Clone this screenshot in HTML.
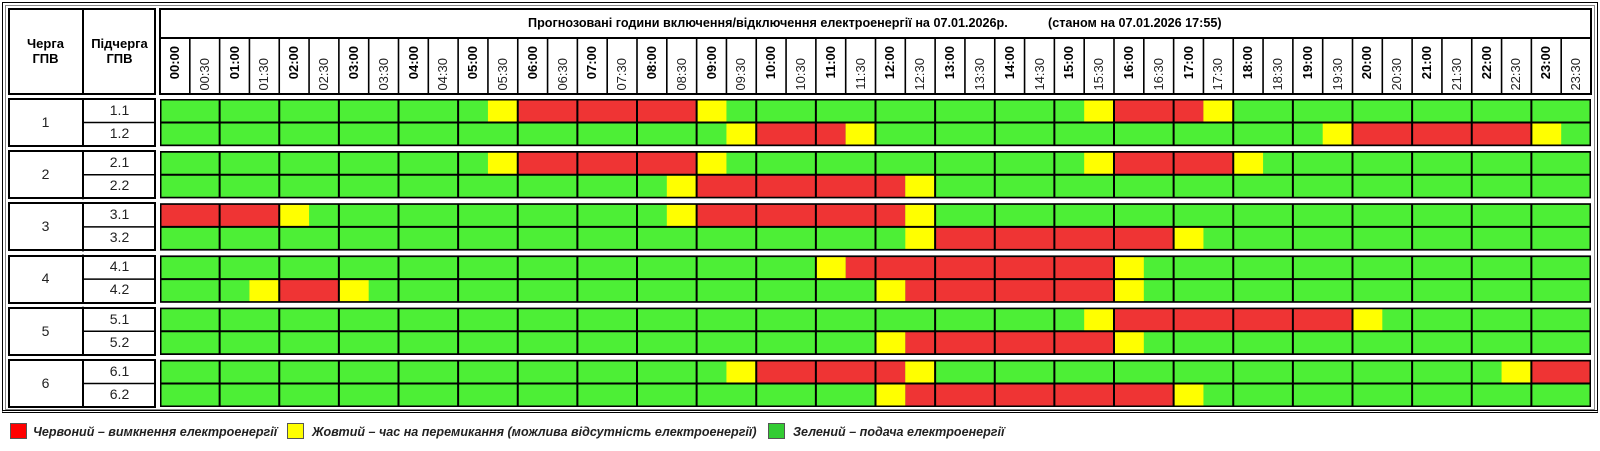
<!DOCTYPE html>
<html><head><meta charset="utf-8">
<style>
*{margin:0;padding:0;box-sizing:border-box}
body{width:1600px;height:451px;background:#fff;position:relative;overflow:hidden;font-family:"Liberation Sans",sans-serif;color:#000}
.a{position:absolute}
.box{position:absolute;border:2px solid #000}
.c{position:absolute;text-align:center;font-size:14px;color:#222}
.t{position:absolute;width:56px;height:29.8px;transform-origin:0 0;transform:rotate(-90deg);font-size:13px;line-height:29.8px;text-align:center;top:94px}
.t.b{font-weight:bold;text-align:right;padding-right:8px}
.t.n{text-align:right;padding-right:20px;color:#222}
.lg{position:absolute;top:423px;width:17px;height:16px;border:1px solid #555}
.lt{position:absolute;top:424px;font-size:13px;font-weight:bold;font-style:italic;color:#222;line-height:16px;white-space:nowrap;transform-origin:0 0;transform:scaleX(0.965)}
</style></head><body>
<div class="a" style="left:2px;top:2px;width:1596px;height:411px;border:1px solid #000;border-bottom:3px double #000"></div>
<div class="a" style="left:5px;top:5px;width:1590px;height:405px;border:1px solid #888"></div>

<div class="box" style="left:8px;top:8px;width:148px;height:87px"></div>
<div class="a" style="left:82px;top:8px;width:2px;height:87px;background:#000"></div>
<div class="c" style="left:8px;top:36px;width:75px;font-weight:bold;font-size:13px;line-height:15px;color:#000">Черга<br>ГПВ</div>
<div class="c" style="left:83px;top:36px;width:73px;font-weight:bold;font-size:13px;line-height:15px;color:#000">Підчерга<br>ГПВ</div>

<div class="box" style="left:159px;top:8px;width:1433px;height:87px"></div>
<div class="a" style="left:159px;top:37px;width:1433px;height:2px;background:#000"></div>
<div class="a" style="left:528px;top:15px;font-size:13px;font-weight:bold;white-space:nowrap;transform:scaleX(0.97);transform-origin:0 0">Прогнозовані години включення/відключення електроенергії на 07.01.2026р.</div>
<div class="a" style="left:1048px;top:15px;font-size:13px;font-weight:bold;white-space:nowrap;transform:scaleX(0.97);transform-origin:0 0">(станом на 07.01.2026 17:55)</div>
<svg class="a" style="left:160px;top:38px" width="1431" height="56" viewBox="0 0 48 56" preserveAspectRatio="none">
<g stroke="#000" stroke-width="1.6">
<path vector-effect="non-scaling-stroke" d="M1 0V56M2 0V56M3 0V56M4 0V56M5 0V56M6 0V56M7 0V56M8 0V56M9 0V56M10 0V56M11 0V56M12 0V56M13 0V56M14 0V56M15 0V56M16 0V56M17 0V56M18 0V56M19 0V56M20 0V56M21 0V56M22 0V56M23 0V56M24 0V56M25 0V56M26 0V56M27 0V56M28 0V56M29 0V56M30 0V56M31 0V56M32 0V56M33 0V56M34 0V56M35 0V56M36 0V56M37 0V56M38 0V56M39 0V56M40 0V56M41 0V56M42 0V56M43 0V56M44 0V56M45 0V56M46 0V56M47 0V56"/>
</g></svg>
<div class="t b" style="left:160.0px">00:00</div><div class="t n" style="left:189.8px">00:30</div>
<div class="t b" style="left:219.6px">01:00</div><div class="t n" style="left:249.4px">01:30</div>
<div class="t b" style="left:279.2px">02:00</div><div class="t n" style="left:309.1px">02:30</div>
<div class="t b" style="left:338.9px">03:00</div><div class="t n" style="left:368.7px">03:30</div>
<div class="t b" style="left:398.5px">04:00</div><div class="t n" style="left:428.3px">04:30</div>
<div class="t b" style="left:458.1px">05:00</div><div class="t n" style="left:487.9px">05:30</div>
<div class="t b" style="left:517.7px">06:00</div><div class="t n" style="left:547.5px">06:30</div>
<div class="t b" style="left:577.3px">07:00</div><div class="t n" style="left:607.1px">07:30</div>
<div class="t b" style="left:637.0px">08:00</div><div class="t n" style="left:666.8px">08:30</div>
<div class="t b" style="left:696.6px">09:00</div><div class="t n" style="left:726.4px">09:30</div>
<div class="t b" style="left:756.2px">10:00</div><div class="t n" style="left:786.0px">10:30</div>
<div class="t b" style="left:815.8px">11:00</div><div class="t n" style="left:845.6px">11:30</div>
<div class="t b" style="left:875.4px">12:00</div><div class="t n" style="left:905.3px">12:30</div>
<div class="t b" style="left:935.1px">13:00</div><div class="t n" style="left:964.9px">13:30</div>
<div class="t b" style="left:994.7px">14:00</div><div class="t n" style="left:1024.5px">14:30</div>
<div class="t b" style="left:1054.3px">15:00</div><div class="t n" style="left:1084.1px">15:30</div>
<div class="t b" style="left:1113.9px">16:00</div><div class="t n" style="left:1143.7px">16:30</div>
<div class="t b" style="left:1173.5px">17:00</div><div class="t n" style="left:1203.3px">17:30</div>
<div class="t b" style="left:1233.2px">18:00</div><div class="t n" style="left:1263.0px">18:30</div>
<div class="t b" style="left:1292.8px">19:00</div><div class="t n" style="left:1322.6px">19:30</div>
<div class="t b" style="left:1352.4px">20:00</div><div class="t n" style="left:1382.2px">20:30</div>
<div class="t b" style="left:1412.0px">21:00</div><div class="t n" style="left:1441.8px">21:30</div>
<div class="t b" style="left:1471.6px">22:00</div><div class="t n" style="left:1501.4px">22:30</div>
<div class="t b" style="left:1531.3px">23:00</div><div class="t n" style="left:1561.1px">23:30</div>

<div class="box" style="left:8px;top:98px;width:148px;height:49px"></div>
<div class="box" style="left:8px;top:150.2px;width:148px;height:49px"></div>
<div class="box" style="left:8px;top:202.4px;width:148px;height:49px"></div>
<div class="box" style="left:8px;top:254.6px;width:148px;height:49px"></div>
<div class="box" style="left:8px;top:306.8px;width:148px;height:49px"></div>
<div class="box" style="left:8px;top:359px;width:148px;height:49px"></div>
<svg class="a" style="left:8px;top:98px" width="148" height="310">
<g stroke="#000" stroke-width="2" fill="none">
<path d="M75 0V49M75 52.2V101.2M75 104.4V153.4M75 156.6V205.6M75 208.8V257.8M75 261V310"/>
<path stroke-width="1.5" d="M75 24.5H148M75 76.7H148M75 128.9H148M75 181.1H148M75 233.3H148M75 285.5H148"/>
</g></svg>
<div class="c" style="left:8px;top:114px;width:75px">1</div>
<div class="c" style="left:8px;top:166px;width:75px">2</div>
<div class="c" style="left:8px;top:218px;width:75px">3</div>
<div class="c" style="left:8px;top:270px;width:75px">4</div>
<div class="c" style="left:8px;top:323px;width:75px">5</div>
<div class="c" style="left:8px;top:375px;width:75px">6</div>
<div class="c" style="left:83px;top:102px;width:73px">1.1</div>
<div class="c" style="left:83px;top:125px;width:73px">1.2</div>
<div class="c" style="left:83px;top:154px;width:73px">2.1</div>
<div class="c" style="left:83px;top:177px;width:73px">2.2</div>
<div class="c" style="left:83px;top:206px;width:73px">3.1</div>
<div class="c" style="left:83px;top:229px;width:73px">3.2</div>
<div class="c" style="left:83px;top:258px;width:73px">4.1</div>
<div class="c" style="left:83px;top:281px;width:73px">4.2</div>
<div class="c" style="left:83px;top:311px;width:73px">5.1</div>
<div class="c" style="left:83px;top:334px;width:73px">5.2</div>
<div class="c" style="left:83px;top:363px;width:73px">6.1</div>
<div class="c" style="left:83px;top:386px;width:73px">6.2</div>

<svg class="a" style="left:160px;top:99px" width="1431" height="308" viewBox="0 0 48 308" preserveAspectRatio="none">
<defs><style>.g{fill:#4def36}.r{fill:#ef3434}.y{fill:#ffff00}</style></defs>
<rect class="g" x="0" y="0" width="48" height="47"/><rect class="g" x="0" y="52.2" width="48" height="47"/><rect class="g" x="0" y="104.4" width="48" height="47"/><rect class="g" x="0" y="156.6" width="48" height="47"/><rect class="g" x="0" y="208.8" width="48" height="47"/><rect class="g" x="0" y="261" width="48" height="47"/>
<rect class="y" x="11" y="0" width="1" height="23.5"/><rect class="r" x="12" y="0" width="6" height="23.5"/><rect class="y" x="18" y="0" width="1" height="23.5"/><rect class="y" x="31" y="0" width="1" height="23.5"/><rect class="r" x="32" y="0" width="3" height="23.5"/><rect class="y" x="35" y="0" width="1" height="23.5"/>
<rect class="y" x="19" y="23.5" width="1" height="23.5"/><rect class="r" x="20" y="23.5" width="3" height="23.5"/><rect class="y" x="23" y="23.5" width="1" height="23.5"/><rect class="y" x="39" y="23.5" width="1" height="23.5"/><rect class="r" x="40" y="23.5" width="6" height="23.5"/><rect class="y" x="46" y="23.5" width="1" height="23.5"/>
<rect class="y" x="11" y="52.2" width="1" height="23.5"/><rect class="r" x="12" y="52.2" width="6" height="23.5"/><rect class="y" x="18" y="52.2" width="1" height="23.5"/><rect class="y" x="31" y="52.2" width="1" height="23.5"/><rect class="r" x="32" y="52.2" width="4" height="23.5"/><rect class="y" x="36" y="52.2" width="1" height="23.5"/>
<rect class="y" x="17" y="75.7" width="1" height="23.5"/><rect class="r" x="18" y="75.7" width="7" height="23.5"/><rect class="y" x="25" y="75.7" width="1" height="23.5"/>
<rect class="r" x="0" y="104.4" width="4" height="23.5"/><rect class="y" x="4" y="104.4" width="1" height="23.5"/><rect class="y" x="17" y="104.4" width="1" height="23.5"/><rect class="r" x="18" y="104.4" width="7" height="23.5"/><rect class="y" x="25" y="104.4" width="1" height="23.5"/>
<rect class="y" x="25" y="127.9" width="1" height="23.5"/><rect class="r" x="26" y="127.9" width="8" height="23.5"/><rect class="y" x="34" y="127.9" width="1" height="23.5"/>
<rect class="y" x="22" y="156.6" width="1" height="23.5"/><rect class="r" x="23" y="156.6" width="9" height="23.5"/><rect class="y" x="32" y="156.6" width="1" height="23.5"/>
<rect class="y" x="3" y="180.1" width="1" height="23.5"/><rect class="r" x="4" y="180.1" width="2" height="23.5"/><rect class="y" x="6" y="180.1" width="1" height="23.5"/><rect class="y" x="24" y="180.1" width="1" height="23.5"/><rect class="r" x="25" y="180.1" width="7" height="23.5"/><rect class="y" x="32" y="180.1" width="1" height="23.5"/>
<rect class="y" x="31" y="208.8" width="1" height="23.5"/><rect class="r" x="32" y="208.8" width="8" height="23.5"/><rect class="y" x="40" y="208.8" width="1" height="23.5"/>
<rect class="y" x="24" y="232.3" width="1" height="23.5"/><rect class="r" x="25" y="232.3" width="7" height="23.5"/><rect class="y" x="32" y="232.3" width="1" height="23.5"/>
<rect class="y" x="19" y="261" width="1" height="23.5"/><rect class="r" x="20" y="261" width="5" height="23.5"/><rect class="y" x="25" y="261" width="1" height="23.5"/><rect class="y" x="45" y="261" width="1" height="23.5"/><rect class="r" x="46" y="261" width="2" height="23.5"/>
<rect class="y" x="24" y="284.5" width="1" height="23.5"/><rect class="r" x="25" y="284.5" width="9" height="23.5"/><rect class="y" x="34" y="284.5" width="1" height="23.5"/>
<g stroke="#000" fill="none" stroke-width="2">
<path vector-effect="non-scaling-stroke" d="M2 0V308M4 0V308M6 0V308M8 0V308M10 0V308M12 0V308M14 0V308M16 0V308M18 0V308M20 0V308M22 0V308M24 0V308M26 0V308M28 0V308M30 0V308M32 0V308M34 0V308M36 0V308M38 0V308M40 0V308M42 0V308M44 0V308M46 0V308"/>
<path vector-effect="non-scaling-stroke" d="M0 23.5H48M0 75.7H48M0 127.9H48M0 180.1H48M0 232.3H48M0 284.5H48"/>
<path vector-effect="non-scaling-stroke" stroke-width="3" d="M0 0H48V47H0ZM0 52.2H48V99.2H0ZM0 104.4H48V151.4H0ZM0 156.6H48V203.6H0ZM0 208.8H48V255.8H0ZM0 261H48V308H0Z"/>
</g>
<rect x="0" y="47.2" width="48" height="4.8" fill="#fff"/><rect x="0" y="99.4" width="48" height="4.8" fill="#fff"/><rect x="0" y="151.6" width="48" height="4.8" fill="#fff"/><rect x="0" y="203.8" width="48" height="4.8" fill="#fff"/><rect x="0" y="256" width="48" height="4.8" fill="#fff"/>
</svg>

<div class="lg" style="left:10px;background:#ff0000"></div>
<div class="lt" style="left:33px">Червоний – вимкнення електроенергії</div>
<div class="lg" style="left:287px;background:#ffff00"></div>
<div class="lt" style="left:312px">Жовтий – час на перемикання (можлива відсутність електроенергії)</div>
<div class="lg" style="left:768px;background:#33cc33"></div>
<div class="lt" style="left:793px">Зелений – подача електроенергії</div>
</body></html>
